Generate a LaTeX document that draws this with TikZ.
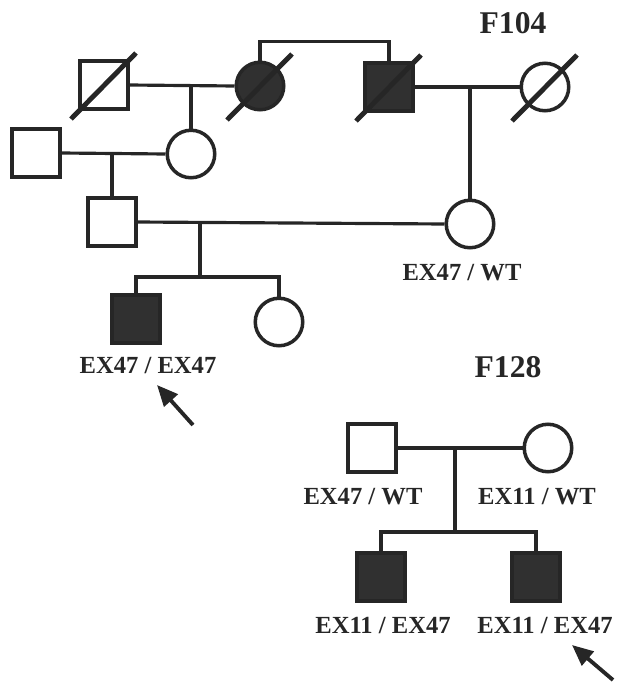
\documentclass[tikz,border=0pt]{standalone}
\usepackage{fontspec}
\setmainfont{Liberation Serif}
\usetikzlibrary{arrows.meta,calc}
\definecolor{tinte}{HTML}{262626}
\definecolor{fuell}{HTML}{303030}
\tikzset{
  mann/.style={draw=tinte,line width=2pt,minimum size=0.97cm,inner sep=0pt},
  frau/.style={circle,draw=tinte,line width=2pt,minimum size=0.95cm,inner sep=0pt},
  krank/.style={fill=fuell},
  linie/.style={tinte,line width=1.8pt},
  tot/.style={tinte,line width=2.8pt},
  pfeil/.style={-{Triangle[length=4.2mm,width=3.6mm]},tinte,line width=2.2pt},
  lab/.style={font=\fontsize{14}{16}\selectfont\bfseries,inner sep=0pt,tinte},
  fam/.style={font=\fontsize{18}{20}\selectfont\bfseries,inner sep=0pt,tinte},
}

\begin{document}
\begin{tikzpicture}[x=0.02cm,y=-0.02cm]
  \useasboundingbox (0,0) rectangle (617,683);
  % F104
  \node[fam] (f104) at (513,23) {F104};
  \node[mann] (gv) at (104,85) {};
  \node[frau,krank] (gm) at (260,86) {};
  \node[mann,krank] (go) at (389,87) {};
  \node[frau] (gt) at (545,87) {};
  \node[mann] (sv) at (36,153) {};
  \node[frau] (mu) at (191,154) {};
  \node[mann] (va) at (112,222) {};
  \node[frau] (ma) at (470,224) {};
  \node[mann,krank] (pr) at (136,319) {};
  \node[frau] (sw) at (279,322) {};
  \foreach \n in {gv,gm,go,gt}
    \draw[tot] ($(\n)+(-33,34)$) -- ($(\n)+(32,-32)$);
  \draw[linie] (gv.east) -- (gm.west);
  \draw[linie] (mu.north) -- (mu.north |- gm.west);
  \draw[linie] (gm.north) -- ++(0,-19) -| (go.north);
  \draw[linie] (go.east) -- (gt.west);
  \draw[linie] (ma.north) -- (ma.north |- gt.west);
  \draw[linie] (sv.east) -- (mu.west);
  \draw[linie] (va.north) -- (va.north |- mu.west);
  \draw[linie] (va.east) -- (ma.west);
  \coordinate (k1) at (200,277);
  \draw[linie] (k1 |- va.east) -- (k1);
  \draw[linie] (pr.north) |- (k1) -| (sw.north);
  \node[lab] (lma) at (462,273) {EX47 / WT};
  \node[lab] (lpr) at (148,366) {EX47 / EX47};
  \coordinate (p1a) at (193,425);
  \coordinate (p1b) at (157,385);
  \draw[pfeil] (p1a) -- (p1b);
  % F128
  \node[fam] (f128) at (508,367) {F128};
  \node[mann] (v2) at (372,448) {};
  \node[frau] (m2) at (548,448) {};
  \node[mann,krank] (s1) at (381,577) {};
  \node[mann,krank] (s2) at (536,577) {};
  \draw[linie] (v2.east) -- (m2.west);
  \coordinate (k2) at (455,532);
  \draw[linie] (k2 |- v2.east) -- (k2);
  \draw[linie] (s1.north) |- (k2) -| (s2.north);
  \node[lab] (lv2) at (363,497) {EX47 / WT};
  \node[lab] (lm2) at (537,497) {EX11 / WT};
  \node[lab] (ls1) at (383,625) {EX11 / EX47};
  \node[lab] (ls2) at (545,625) {EX11 / EX47};
  \coordinate (p2a) at (613,680);
  \coordinate (p2b) at (572,645);
  \draw[pfeil] (p2a) -- (p2b);
\end{tikzpicture}
\end{document}
